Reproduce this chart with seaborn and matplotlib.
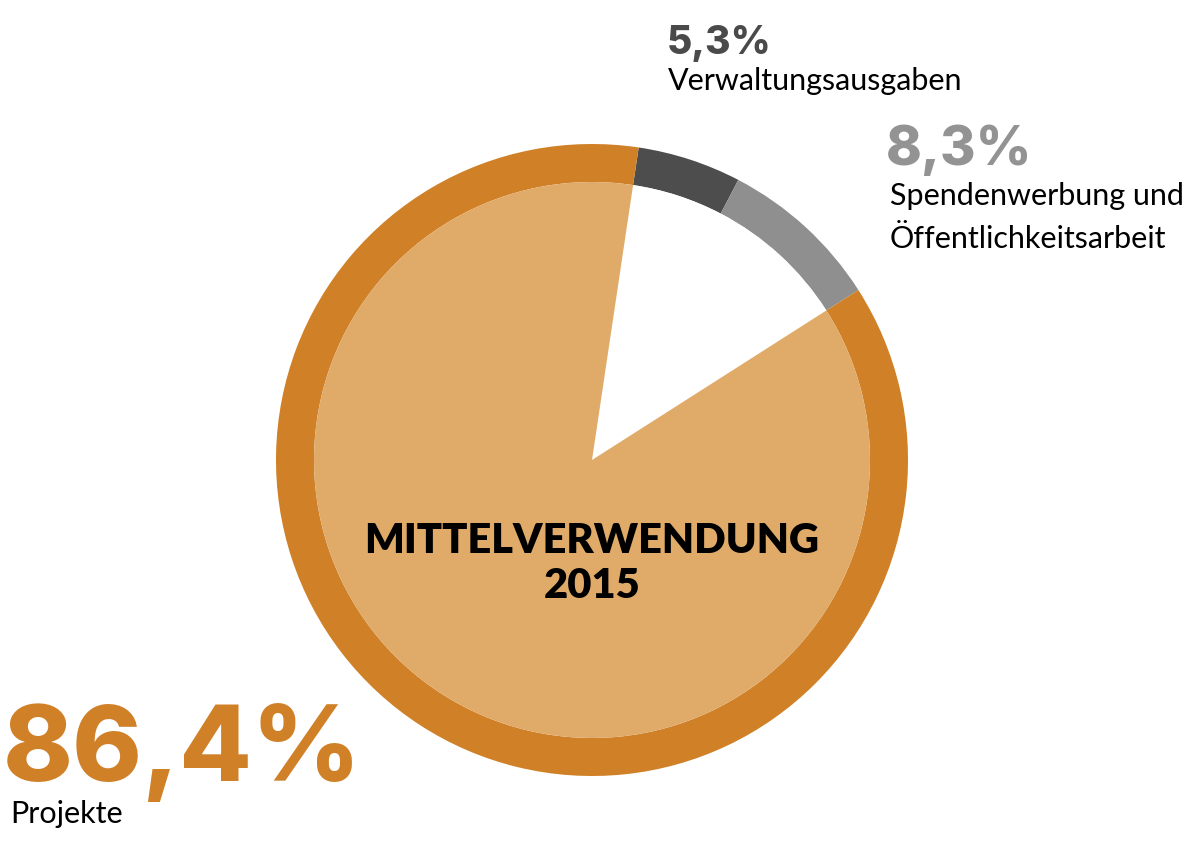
import matplotlib
matplotlib.use("Agg")
import matplotlib.pyplot as plt
import seaborn as sns

# ==================================
# DATA
# ==================================

labels = ["Verwaltungsausgaben", "Spendenwerbung und\nÖffentlichkeitsarbeit", "Projekte"]
shares = [5.3, 8.3, 86.4]
share_labels = ["5,3%", "8,3%", "86,4%"]
title_lines = ["MITTELVERWENDUNG", "2015"]

ring_colors = ["#4d4d4d", "#8f8f8f", "#d08027"]
inner_colors = ["white", "white", "#e0ab69"]
label_colors = ["#4a4a4a", "#939393", "#d08027"]

# ==================================
# FIGURE (pixel coordinates, y up)
# ==================================

sns.set_theme(style="white")
plt.rcParams["font.family"] = ["Lato", "DejaVu Sans"]
num_font = ["Inter", "Lato", "DejaVu Sans"]

W, H = 1200, 849
fig = plt.figure(figsize=(W / 100, H / 100), dpi=100)
ax = fig.add_axes([0, 0, 1, 1])

cx, cy = 592, H - 460
start = 90 - 8.5

# outer ring
ax.pie(shares, colors=ring_colors, startangle=start, counterclock=False,
       center=(cx, cy), radius=316,
       wedgeprops=dict(width=38, linewidth=0))

# inner filled part (only Projekte)
ax.pie(shares, colors=inner_colors, startangle=start, counterclock=False,
       center=(cx, cy), radius=278,
       wedgeprops=dict(linewidth=0))

ax.set_xlim(0, W)
ax.set_ylim(0, H)
ax.set_aspect("equal")
ax.axis("off")

# center title
ax.text(cx, H - 553, title_lines[0], ha="center", va="baseline",
        fontsize=30, fontweight="heavy", color="black")
ax.text(cx, H - 598, title_lines[1], ha="center", va="baseline",
        fontsize=30, fontweight="heavy", color="black")

# Verwaltungsausgaben
ax.text(667, H - 54, share_labels[0], ha="left", va="baseline", family=num_font,
        fontsize=28, fontweight="heavy", color=label_colors[0])
ax.text(668, H - 90, labels[0], ha="left", va="baseline",
        fontsize=22, color="black")

# Spendenwerbung
ax.text(886, H - 165, share_labels[1], ha="left", va="baseline", family=num_font,
        fontsize=39, fontweight="heavy", color=label_colors[1])
ax.text(890, H - 205, labels[1].split("\n")[0], ha="left", va="baseline",
        fontsize=22, color="black")
ax.text(890, H - 248, labels[1].split("\n")[1], ha="left", va="baseline",
        fontsize=22, color="black")

# Projekte
ax.text(3, H - 781, share_labels[2], ha="left", va="baseline", family=num_font,
        fontsize=76, fontweight="heavy", color=label_colors[2])
ax.text(10, H - 823, labels[2], ha="left", va="baseline",
        fontsize=22, color="black")

fig.savefig("out.png", dpi=100, facecolor="white")
